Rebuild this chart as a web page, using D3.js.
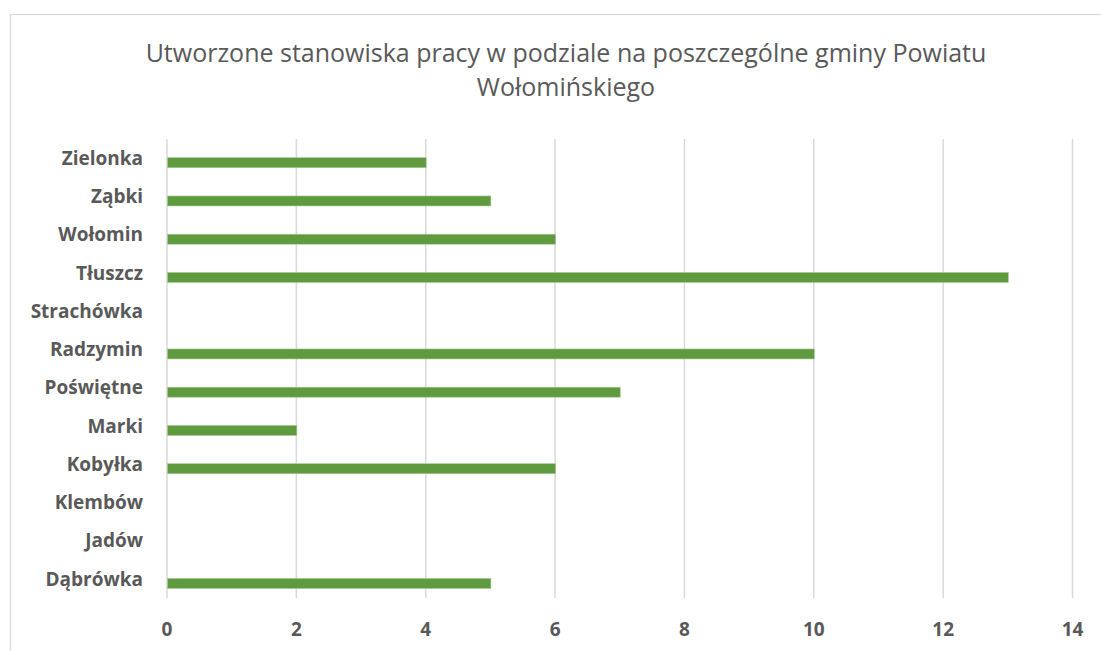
<!DOCTYPE html>
<html>
<head>
<meta charset="utf-8">
<script src="https://cdn.jsdelivr.net/npm/d3@7"></script>
<style>
body { margin: 0; background: #fff; }
text { font-family: "Open Sans", "Liberation Sans", sans-serif; }
</style>
</head>
<body>
<svg id="chart" width="1101" height="651"></svg>
<script>
// categories from top to bottom, as in the picture
var gminy = ["Zielonka", "Ząbki", "Wołomin", "Tłuszcz", "Strachówka", "Radzymin",
	"Poświętne", "Marki", "Kobyłka", "Klembów", "Jadów", "Dąbrówka"];
var stanowiska = [4, 5, 6, 13, 0, 10, 7, 2, 6, 0, 0, 5];
var xTicks = [0, 2, 4, 6, 8, 10, 12, 14];
var titleLines = ["Utworzone stanowiska pracy w podziale na poszczególne gminy Powiatu", "Wołomińskiego"];

var svg = d3.select("#chart");

// chart border
svg.append("rect")
	.attr("x", 10.5).attr("y", 14.5)
	.attr("width", 1100).attr("height", 650)
	.attr("fill", "none")
	.attr("stroke", "#d9d9d9")
	.attr("stroke-width", 1.3);

var x = d3.scaleLinear().domain([0, 14]).range([167, 1072.5]);
var y = d3.scaleBand().domain(gminy).range([139, 598]);

// gridlines
svg.append("g")
	.selectAll("line")
	.data(xTicks)
	.enter().append("line")
	.attr("x1", function(d){ return x(d); })
	.attr("x2", function(d){ return x(d); })
	.attr("y1", 139)
	.attr("y2", 598)
	.attr("stroke", "#d9d9d9")
	.attr("stroke-width", 1.5);

// bars
var data = gminy.map(function(g, i){ return {name: g, value: stanowiska[i]}; });
svg.append("g")
	.selectAll("rect")
	.data(data.filter(function(d){ return d.value > 0; }))
	.enter().append("rect")
	.attr("x", x(0) + 0.5)
	.attr("y", function(d){ return y(d.name) + y.bandwidth() * 0.62 - 5; })
	.attr("width", function(d){ return x(d.value) - x(0); })
	.attr("height", 10)
	.attr("fill", "#609a3e")
	.attr("stroke", "#a9c99a")
	.attr("stroke-width", 0.6);

// category labels
svg.append("g")
	.selectAll("text")
	.data(gminy)
	.enter().append("text")
	.attr("x", 143)
	.attr("y", function(d){ return y(d) + y.bandwidth() / 2; })
	.attr("dy", "0.35em")
	.attr("text-anchor", "end")
	.attr("font-size", "19px")
	.attr("font-weight", "bold")
	.attr("fill", "#595959")
	.text(function(d){ return d; });

// x tick labels
svg.append("g")
	.selectAll("text")
	.data(xTicks)
	.enter().append("text")
	.attr("x", function(d){ return x(d); })
	.attr("y", 629)
	.attr("dy", "0.35em")
	.attr("text-anchor", "middle")
	.attr("font-size", "19px")
	.attr("font-weight", "bold")
	.attr("fill", "#595959")
	.text(function(d){ return d; });

// title
svg.append("g")
	.selectAll("text")
	.data(titleLines)
	.enter().append("text")
	.attr("x", 566)
	.attr("y", function(d, i){ return 62 + i * 34; })
	.attr("text-anchor", "middle")
	.attr("font-size", "25px")
	.attr("fill", "#595959")
	.text(function(d){ return d; });
</script>
</body>
</html>
